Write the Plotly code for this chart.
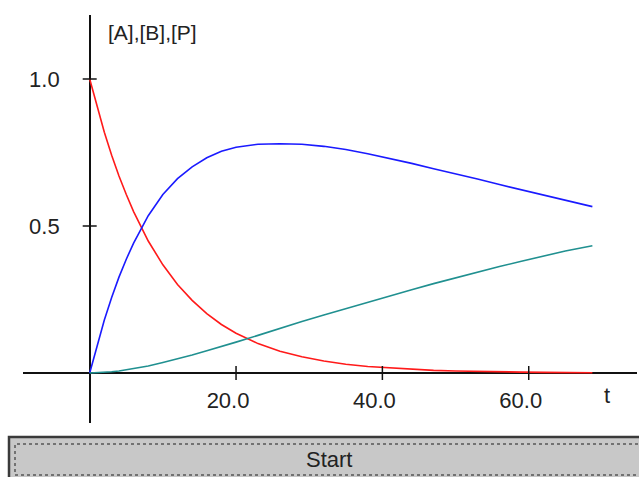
import plotly.graph_objects as go

# ---- data ----
t = [0, 1, 2, 3, 4, 5, 6, 8, 10, 12, 14, 16, 18, 20, 23, 26, 29, 32, 35, 38,
     41, 44, 47, 50, 53, 56, 59, 62, 65, 68.7]
conc_A = [1.0, 0.905, 0.819, 0.741, 0.670, 0.607, 0.549, 0.449, 0.368, 0.301,
          0.247, 0.202, 0.165, 0.135, 0.100, 0.074, 0.055, 0.041, 0.030, 0.022,
          0.017, 0.012, 0.009, 0.007, 0.005, 0.004, 0.003, 0.002, 0.002, 0.001]
conc_B = [0.0, 0.095, 0.180, 0.257, 0.326, 0.387, 0.442, 0.535, 0.607, 0.661,
          0.701, 0.732, 0.754, 0.768, 0.778, 0.780, 0.778, 0.771, 0.760, 0.746,
          0.730, 0.713, 0.695, 0.678, 0.660, 0.641, 0.623, 0.606, 0.589, 0.566]
conc_P = [0.0, 0.001, 0.002, 0.004, 0.007, 0.011, 0.015, 0.024, 0.036, 0.048,
          0.061, 0.076, 0.090, 0.105, 0.128, 0.152, 0.175, 0.197, 0.219, 0.241,
          0.262, 0.283, 0.304, 0.324, 0.343, 0.362, 0.380, 0.398, 0.415, 0.433]
x_tick_vals = [20, 40, 60]
x_tick_text = ["20.0", "40.0", "60.0"]
y_tick_vals = [0.5, 1.0]
y_tick_text = ["0.5", "1.0"]
y_title = "[A],[B],[P]"
x_title = "t"
button_text = "Start"

# ---- geometry helpers (pixels -> paper) ----
W, H = 639, 477
def px(x):
    return x / W
def py(y):
    return 1 - y / H

X0_PX, PX_PER_T = 89.7, 7.317      # t = 0 column, pixels per unit t
Y0_PX, PX_PER_C = 373.0, 294.0     # c = 0 row, pixels per unit conc
XL, XR = 23, 637                   # horizontal axis extent
YT, YB = 15, 423                   # vertical axis extent

x_range = [(XL - X0_PX) / PX_PER_T, (XR - X0_PX) / PX_PER_T]
y_range = [(Y0_PX - YB) / PX_PER_C, (Y0_PX - YT) / PX_PER_C]

FONT = "Liberation Sans, Arial, sans-serif"
TXT = "#222222"
AXC = "#111111"

fig = go.Figure()
fig.add_trace(go.Scatter(x=t, y=conc_A, mode="lines",
                         line=dict(color="#ff1a1a", width=1.6), name="[A]"))
fig.add_trace(go.Scatter(x=t, y=conc_B, mode="lines",
                         line=dict(color="#1a1aff", width=1.6), name="[B]"))
fig.add_trace(go.Scatter(x=t, y=conc_P, mode="lines",
                         line=dict(color="#209090", width=1.6), name="[P]"))
# crossing tick marks on the axes
fig.add_trace(go.Scatter(x=x_tick_vals, y=[0] * len(x_tick_vals), mode="markers",
                         marker=dict(symbol="line-ns-open", size=10, color=AXC,
                                     line=dict(color=AXC, width=1.5)),
                         hoverinfo="skip"))
fig.add_trace(go.Scatter(x=[0] * len(y_tick_vals), y=y_tick_vals, mode="markers",
                         marker=dict(symbol="line-ew-open", size=10, color=AXC,
                                     line=dict(color=AXC, width=1.5)),
                         hoverinfo="skip"))

fig.update_layout(
    width=W, height=H,
    margin=dict(l=0, r=0, t=0, b=0, pad=0),
    paper_bgcolor="white", plot_bgcolor="white",
    showlegend=False,
    font=dict(family=FONT, size=22, color=TXT),
    xaxis=dict(domain=[px(XL), px(XR)], range=x_range, showgrid=False,
               zeroline=True, zerolinecolor=AXC, zerolinewidth=1.5,
               showline=False, anchor="free", position=py(Y0_PX),
               tickmode="array", tickvals=x_tick_vals, ticktext=x_tick_text,
               ticks="", ticklabelstandoff=12, ticklabelshift=-8,
               tickfont=dict(family=FONT, size=22, color=TXT)),
    yaxis=dict(domain=[py(YB), py(YT)], range=y_range, showgrid=False,
               zeroline=True, zerolinecolor=AXC, zerolinewidth=1.5,
               showline=False, anchor="free", position=px(X0_PX),
               tickmode="array", tickvals=y_tick_vals, ticktext=y_tick_text,
               ticks="", ticklabelstandoff=30,
               tickfont=dict(family=FONT, size=22, color=TXT)),
)

# axis titles
fig.add_annotation(text=y_title, xref="paper", yref="paper", x=px(106), y=py(33),
                   xanchor="left", yanchor="middle", showarrow=False,
                   font=dict(family=FONT, size=21, color=TXT))
fig.add_annotation(text=x_title, xref="paper", yref="paper", x=px(607), y=py(395),
                   xanchor="center", yanchor="middle", showarrow=False,
                   font=dict(family=FONT, size=22, color=TXT))

# "Start" button
fig.add_shape(type="rect", xref="paper", yref="paper",
              x0=px(9), x1=px(645), y0=py(485), y1=py(437),
              fillcolor="#c8c8c8", line=dict(color="#3a3a3a", width=2.5), layer="below")
fig.add_shape(type="rect", xref="paper", yref="paper",
              x0=px(15), x1=px(650), y0=py(475), y1=py(444),
              fillcolor="rgba(0,0,0,0)", line=dict(color="#555555", width=1.5, dash="dot"))
fig.add_annotation(text=button_text, xref="paper", yref="paper", x=px(329), y=py(459),
                   xanchor="center", yanchor="middle", showarrow=False,
                   font=dict(family=FONT, size=22, color=TXT))

fig.write_html("out.html", config={"displayModeBar": False},
               post_script="document.body.style.margin='0';document.body.style.overflow='hidden';")
